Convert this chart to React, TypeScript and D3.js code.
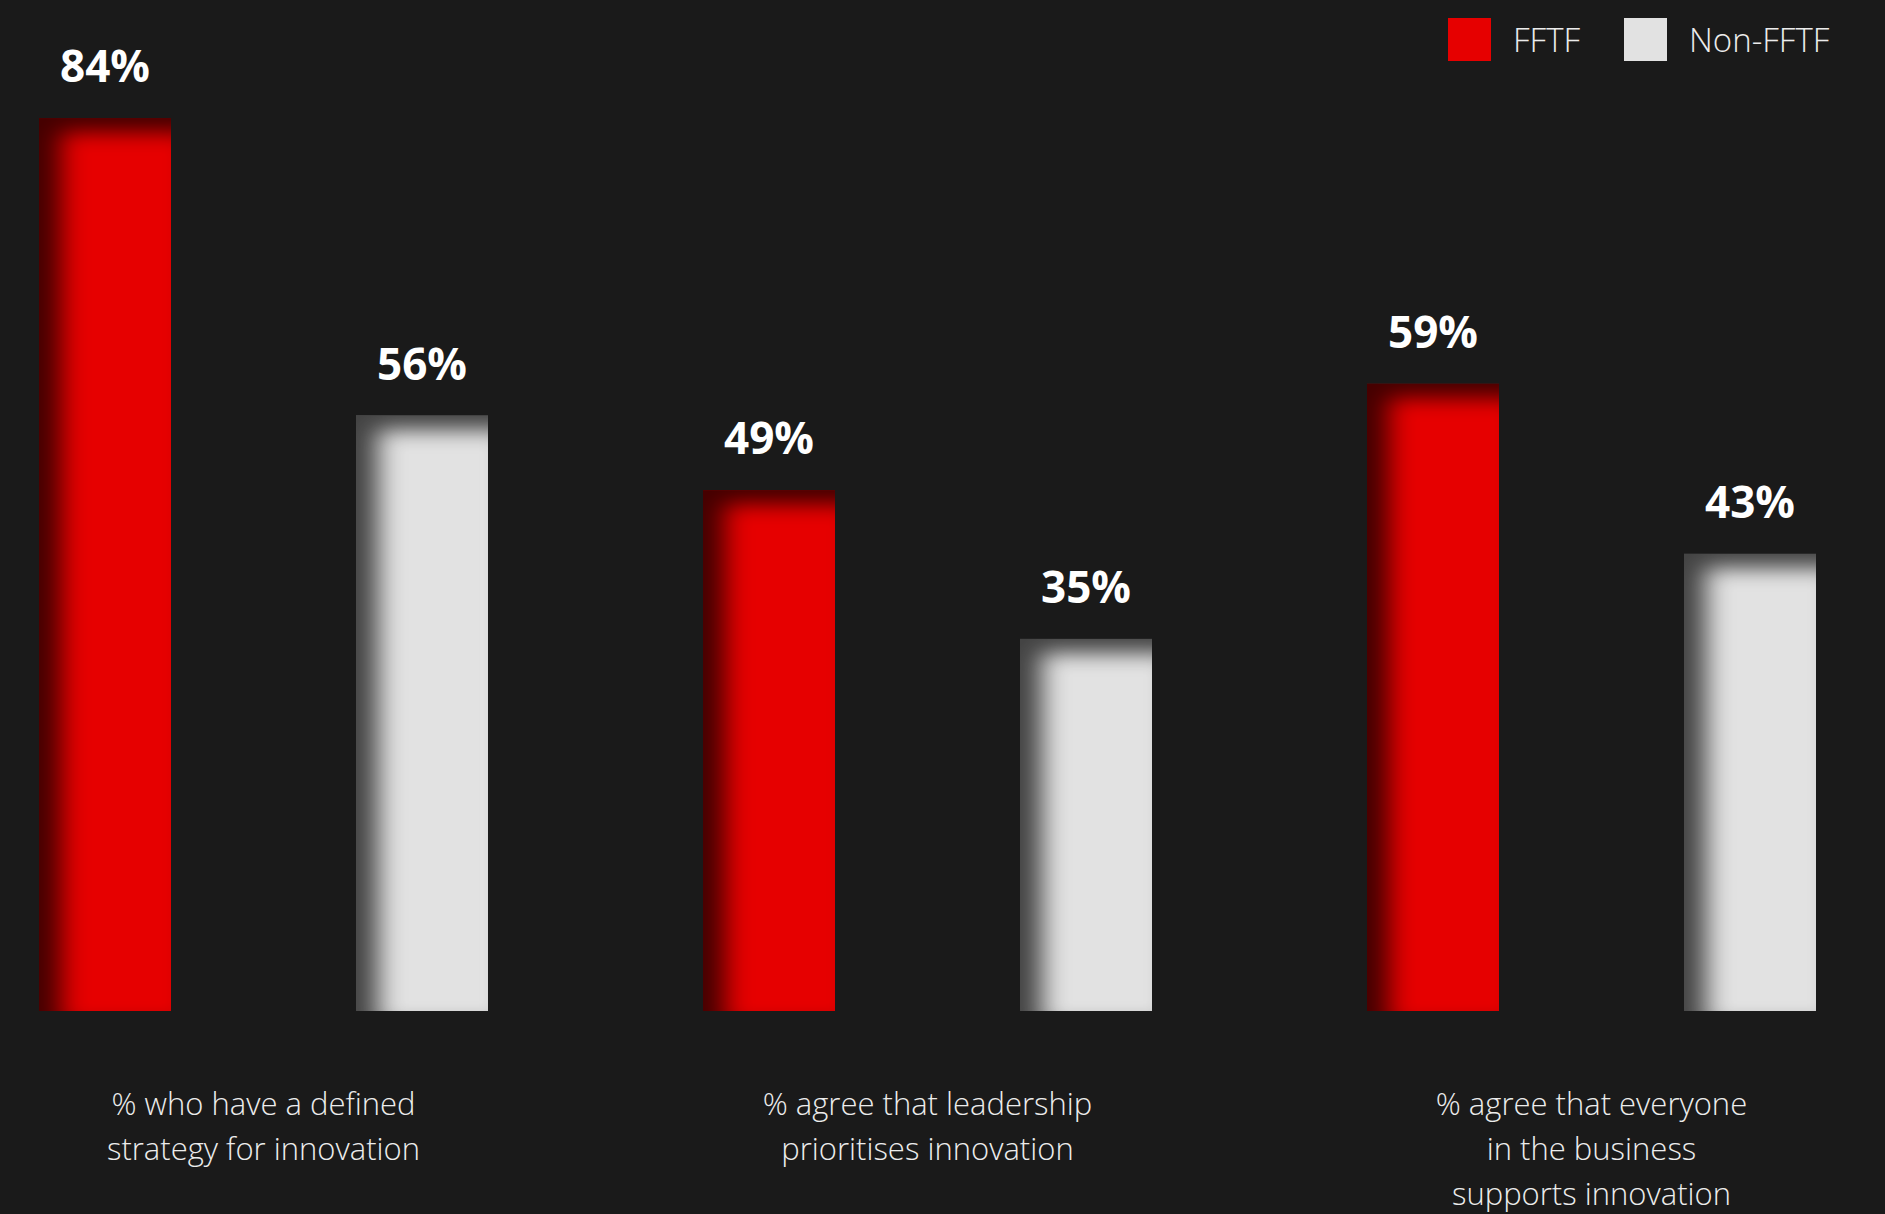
import React, { useEffect, useRef } from "react";
import * as d3 from "d3";

const categories = [
  "% who have a defined strategy for innovation",
  "% agree that leadership prioritises innovation",
  "% agree that everyone in the business supports innovation",
];
const categoryLines = [
  ["% who have a defined", "strategy for innovation"],
  ["% agree that leadership", "prioritises innovation"],
  ["% agree that everyone", "in the business", "supports innovation"],
];
const seriesNames = ["FFTF", "Non-FFTF"];
const fftfValues = [84, 49, 59];
const nonFftfValues = [56, 35, 43];
const seriesColors = ["#e60000", "#e2e2e2"];

const W = 1885;
const H = 1214;

export default function App() {
  const ref = useRef<SVGSVGElement | null>(null);

  useEffect(() => {
    const svg = d3.select(ref.current);
    svg.selectAll("*").remove();

    const defs = svg.append("defs");
    const f = defs
      .append("filter")
      .attr("id", "innerShadow")
      .attr("x", "-50%")
      .attr("y", "-50%")
      .attr("width", "200%")
      .attr("height", "200%")
      .attr("color-interpolation-filters", "sRGB");
    f.append("feComponentTransfer")
      .attr("in", "SourceAlpha")
      .append("feFuncA")
      .attr("type", "table")
      .attr("tableValues", "1 0");
    f.append("feOffset").attr("dx", 22).attr("dy", 14);
    f.append("feGaussianBlur").attr("stdDeviation", "13 10").attr("result", "blur");
    f.append("feFlood").attr("flood-color", "#000").attr("flood-opacity", 0.7);
    f.append("feComposite").attr("in2", "blur").attr("operator", "in");
    f.append("feComposite").attr("in2", "SourceAlpha").attr("operator", "in").attr("result", "shadow");
    const m = f.append("feMerge");
    m.append("feMergeNode").attr("in", "SourceGraphic");
    m.append("feMergeNode").attr("in", "shadow");

    svg.append("rect").attr("width", W).attr("height", H).attr("fill", "#1a1a1a");

    const x0 = d3.scaleBand<string>().domain(categories).range([-68.5, 1923.5]);
    const x1 = d3
      .scaleBand<string>()
      .domain(seriesNames)
      .range([107.5, 556.5])
      .paddingInner(0.5836)
      .paddingOuter(0);
    const y = d3.scaleLinear().domain([0, 90]).range([1011, 54.3]);
    const color = d3.scaleOrdinal<string, string>().domain(seriesNames).range(seriesColors);

    const data = categories.map((c, i) => ({
      cat: c,
      vals: [
        { s: seriesNames[0], v: fftfValues[i] },
        { s: seriesNames[1], v: nonFftfValues[i] },
      ],
    }));

    const g = svg
      .selectAll("g.grp")
      .data(data)
      .enter()
      .append("g")
      .attr("class", "grp")
      .attr("transform", (d) => `translate(${x0(d.cat)},0)`);

    const bars = g
      .selectAll("g.bar")
      .data((d) => d.vals)
      .enter()
      .append("g")
      .attr("class", "bar");

    bars
      .append("rect")
      .attr("x", (d) => x1(d.s)!)
      .attr("width", x1.bandwidth())
      .attr("y", (d) => y(d.v))
      .attr("height", (d) => y(0) - y(d.v))
      .attr("fill", (d) => color(d.s))
      .attr("filter", "url(#innerShadow)");

    bars
      .append("text")
      .attr("x", (d) => x1(d.s)! + x1.bandwidth() / 2)
      .attr("y", (d) => y(d.v) - 36)
      .attr("text-anchor", "middle")
      .attr("fill", "#ffffff")
      .attr("font-family", "'Open Sans', sans-serif")
      .attr("font-weight", 700)
      .attr("font-size", 44)
      .text((d) => `${d.v}%`);

    // category labels
    categories.forEach((c, i) => {
      const cx = x0(c)! + x0.bandwidth() / 2;
      const t = svg
        .append("text")
        .attr("text-anchor", "middle")
        .attr("fill", "#ececec")
        .attr("font-family", "'Open Sans', sans-serif")
        .attr("font-weight", 300)
        .attr("font-size", 31);
      categoryLines[i].forEach((line, j) => {
        t.append("tspan").attr("x", cx).attr("y", 1115 + j * 45).text(line);
      });
    });

    // legend
    const legendX = [1448, 1624];
    seriesNames.forEach((s, i) => {
      svg
        .append("rect")
        .attr("x", legendX[i])
        .attr("y", 18)
        .attr("width", 43)
        .attr("height", 43)
        .attr("fill", color(s));
      svg
        .append("text")
        .attr("x", legendX[i] + 65)
        .attr("y", 52)
        .attr("fill", "#ececec")
        .attr("font-family", "'Open Sans', sans-serif")
        .attr("font-weight", 300)
        .attr("font-size", 33)
        .text(s);
    });
  }, []);

  return (
    <svg
      ref={ref}
      width={W}
      height={H}
      style={{ position: "absolute", left: 0, top: 0, display: "block" }}
    />
  );
}
